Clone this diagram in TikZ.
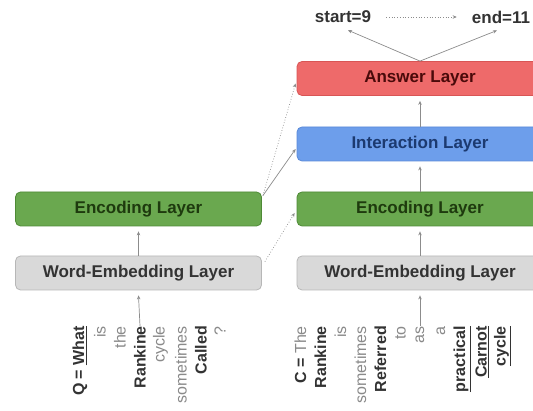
\documentclass[tikz,border=0pt]{standalone}
\usepackage{fontspec}
\setmainfont{Liberation Sans}
\usetikzlibrary{arrows.meta}
\definecolor{grayfill}{HTML}{D9D9D9}
\definecolor{grayline}{HTML}{B7B7B7}
\definecolor{greenfill}{HTML}{6AA84F}
\definecolor{greenline}{HTML}{4E8A36}
\definecolor{greentext}{HTML}{1E3A0E}
\definecolor{bluefill}{HTML}{6D9EEB}
\definecolor{blueline}{HTML}{5A8AD8}
\definecolor{bluetext}{HTML}{1C3A70}
\definecolor{redfill}{HTML}{EE6A6A}
\definecolor{redline}{HTML}{D85555}
\definecolor{redtext}{HTML}{4A0A0A}
\definecolor{conn}{HTML}{8C8C8C}
\definecolor{tokdark}{HTML}{333333}
\definecolor{toklight}{HTML}{8A8A8A}
\tikzset{
  layerbox/.style={rounded corners=5pt, minimum width=246pt, minimum height=34pt,
    inner sep=0pt, font=\fontsize{17}{19}\selectfont\bfseries, line width=0.8pt},
  grayL/.style={layerbox, fill=grayfill, draw=grayline, text=tokdark},
  greenL/.style={layerbox, fill=greenfill, draw=greenline, text=greentext},
  blueL/.style={layerbox, fill=bluefill, draw=blueline, text=bluetext},
  redL/.style={layerbox, fill=redfill, draw=redline, text=redtext},
  tok/.style={rotate=90, anchor=east, inner sep=0pt, font=\fontsize{16}{17}\selectfont},
  tb/.style={tok, text=tokdark, font=\fontsize{16}{17}\selectfont\bfseries},
  tl/.style={tok, text=toklight},
  arr/.style={draw=conn, line width=0.7pt, -{Stealth[length=4pt,width=3.5pt]}},
  darr/.style={arr, dotted},
  outlab/.style={inner sep=1pt, text=tokdark, font=\fontsize{17}{19}\selectfont\bfseries}
}
\begin{document}
\begin{tikzpicture}[x=1pt,y=-1pt]
\clip (0,0) rectangle (533,411);
\fill[white] (0,0) rectangle (533,411);
% left column
\node[greenL] (lenc) at (138.5,209) {Encoding Layer};
\node[grayL] (lwe) at (138.5,273) {Word-Embedding Layer};
% right column
\node[grayL] (rwe) at (420,273) {Word-Embedding Layer};
\node[greenL] (renc) at (420,209) {Encoding Layer};
\node[blueL] (inter) at (420,144) {Interaction Layer};
\node[redL] (ans) at (420,78.5) {Answer Layer};
% outputs
\node[outlab] (start) at (343,17) {start=9};
\node[outlab] (end) at (501,17) {end=11};
% question tokens
\node[tb] (q1) at (80,326) {Q = \underline{What}};
\node[tl] (q2) at (100,326) {is};
\node[tl] (q3) at (120,326) {the};
\node[tb] (q4) at (140,326) {Rankine};
\node[tl] (q5) at (160.5,326) {cycle};
\node[tl] (q6) at (181,326) {sometimes};
\node[tb] (q7) at (201,326) {Called};
\node[tl] (q8) at (220,326) {?};
% context tokens
\node[tok] (c1) at (300.5,326) {\textcolor{tokdark}{\bfseries C =} \textcolor{toklight}{The}};
\node[tb] (c2) at (320.5,326) {Rankine};
\node[tl] (c3) at (340.5,326) {is};
\node[tl] (c4) at (360.5,326) {sometimes};
\node[tb] (c5) at (380.5,326) {Referred};
\node[tl] (c6) at (400.5,326) {to};
\node[tl] (c7) at (420,326) {as};
\node[tl] (c8) at (441,326) {a};
\node[tb] (c9) at (462,326) {\underline{practical}};
\node[tb] (c10) at (482,326) {\underline{Carnot}};
\node[tb] (c11) at (502.5,326) {\underline{cycle}};
% vertical connectors
\draw[arr] (q4.east) -- ([yshift=-5pt]lwe.south);
\draw[arr] (lwe.north) -- ([yshift=-5pt]lenc.south);
\draw[arr] (c7.east) -- ([yshift=-5pt]rwe.south);
\draw[arr] (rwe.north) -- ([yshift=-5pt]renc.south);
\draw[arr] (renc.north) -- ([yshift=-5pt]inter.south);
\draw[arr] (inter.north) -- ([yshift=-5pt]ans.south);
% cross connectors
\coordinate (lencTR) at ([xshift=1pt,yshift=-4pt]lenc.north east);
\coordinate (lweTR) at ([xshift=3pt,yshift=-6pt]lwe.north east);
\draw[darr] (lencTR) -- ([xshift=-1pt,yshift=-5pt]ans.west);
\draw[arr] (lencTR) -- ([xshift=-1pt,yshift=-5pt]inter.west);
\draw[darr] (lweTR) -- ([xshift=-2pt,yshift=-4pt]renc.west);
% outputs
\draw[arr] (ans.north) -- ([xshift=5pt,yshift=-6pt]start.south);
\draw[arr] (ans.north) -- ([xshift=-4pt,yshift=-6pt]end.south);
\draw[darr] ([xshift=14pt]start.east) -- ([xshift=-14pt]end.west);
\end{tikzpicture}
\end{document}
